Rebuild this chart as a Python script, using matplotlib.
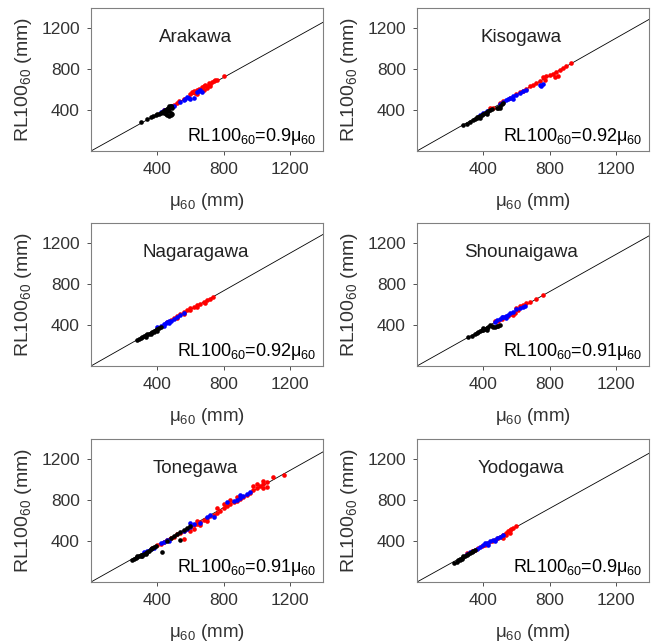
#scatter of RL100_60 vs mu_60 for six rivers

import numpy as np
from matplotlib import pyplot as plt

plt.rcParams['font.family'] = ['Liberation Sans', 'DejaVu Sans']
plt.rcParams['mathtext.fontset'] = 'custom'
plt.rcParams['mathtext.rm'] = 'Liberation Sans'
plt.rcParams['mathtext.it'] = 'Liberation Sans'

rivers = ['Arakawa', 'Kisogawa', 'Nagaragawa', 'Shounaigawa', 'Tonegawa', 'Yodogawa']
slopes = [0.9, 0.92, 0.92, 0.91, 0.91, 0.9]
ticks = [400, 800, 1200]

# (mu60, RL100_60) pairs
ara_black = [(300,280),(340,315),(360,330),(375,340),(390,350),(400,360),(410,365),(420,375),(430,380),(440,390),
             (445,400),(450,405),(455,380),(460,410),(465,420),(470,395),(475,430),(480,440),(485,350),(490,360),
             (470,345),(480,370),(460,355),(450,360),(440,370),(490,420),(485,440),(470,440)]
ara_blue = [(420,380),(440,400),(500,440),(540,480),(560,500),(570,510),(580,530),(590,520),
            (620,520),(640,575),(650,590),(660,600),(670,580),(600,510)]
ara_red = [(440,400),(470,420),(500,450),(520,470),(530,490),(560,510),(600,560),(610,580),(630,570),
           (640,600),(650,610),(670,630),(680,640),(690,650),(700,640),(710,670),(720,660),(730,680),
           (740,690),(750,700),(760,700),(800,735),(620,590),(680,600),(700,620),(720,640),(640,560)]

kis_black = [(280,250),(300,265),(320,280),(340,300),(350,310),(360,320),(370,330),(380,340),(390,350),(400,360),
             (410,370),(420,380),(430,390),(440,400),(450,410),(380,320),(360,335),(420,360),(490,420),(500,440),
             (510,460),(520,470),(500,420),(480,420)]
kis_blue = [(380,350),(400,370),(420,390),(500,460),(520,480),(540,500),(550,510),(560,520),(580,540),
            (600,550),(620,570),(640,590),(660,600),(740,650),(760,660),(750,640),(580,510)]
kis_red = [(440,420),(460,420),(500,470),(520,490),(560,520),(600,560),(620,580),(640,590),(660,610),(680,640),
           (700,650),(720,670),(740,690),(760,720),(780,730),(800,740),(820,750),(840,770),(860,790),(880,810),
           (900,830),(930,865),(770,700),(830,720),(850,730)]

nag_black = [(280,255),(290,265),(300,270),(310,280),(320,290),(330,300),(340,310),(350,315),(360,325),(370,335),
             (380,345),(390,350),(400,360),(410,370),(420,380),(330,280),(360,310),(380,330),(400,345)]
nag_blue = [(400,380),(420,395),(440,410),(450,420),(460,430),(470,440),(480,445),(500,460),(520,480),(540,500),
            (560,520),(440,390),(470,420)]
nag_red = [(460,430),(480,450),(500,470),(520,490),(540,510),(560,530),(580,550),(600,570),(620,580),(640,600),
           (660,610),(680,630),(700,650),(720,660),(735,675),(520,470),(560,510),(600,550),(640,580),(690,620)]

sho_black = [(310,285),(330,290),(350,310),(360,320),(370,335),(380,345),(390,350),(400,355),(410,365),(420,375),
             (430,385),(440,400),(450,390),(460,380),(470,385),(480,390),(490,395),(500,405),(400,370),(420,350)]
sho_blue = [(470,430),(480,450),(500,460),(510,475),(520,480),(540,490),(550,500),(560,520),(580,530),(600,560),
            (620,565),(640,580),(650,590),(540,470)]
sho_red = [(470,440),(490,440),(510,460),(530,480),(550,490),(570,510),(590,520),(600,570),(620,590),(640,600),
           (660,620),(680,630),(720,660),(760,700),(580,500),(610,550)]

ton_black = [(250,220),(260,230),(270,235),(280,240),(290,250),(300,260),(310,265),(320,275),(330,285),(340,295),
             (350,305),(360,320),(370,330),(380,340),(390,350),(300,250),(310,250),(280,250),(430,295),(460,400),
             (480,430),(500,450),(520,470),(540,490),(560,510),(580,530),(600,550),(540,410),(330,270)]
ton_blue = [(320,290),(340,305),(360,320),(380,330),(420,380),(440,395),(460,410),(470,400),(560,500),(580,520),
            (600,540),(600,580),(620,570),(660,575),(700,640),(720,660),(740,640),(820,780),(860,790),(880,800),
            (900,820),(920,840),(940,860),(960,880),(900,850)]
ton_red = [(370,330),(400,360),(420,370),(440,390),(460,410),(480,430),(500,440),(520,470),(540,480),(560,500),
           (580,520),(600,540),(620,560),(640,570),(660,590),(680,610),(700,630),(720,650),(740,660),(760,680),
           (780,700),(800,720),(820,740),(840,760),(860,780),(880,790),(900,810),(920,830),(940,850),(960,870),
           (980,900),(1000,920),(1020,940),(1040,960),(1060,980),(1100,1025),(1165,1045),(1040,990),(1000,960),
           (980,940),(560,420),(600,500),(640,600),(700,600),(760,720),(800,760),(620,520),(840,800),(880,830),
           (660,560),(1040,920),(1060,930)]

yod_black = [(222,185),(240,200),(250,215),(260,225),(270,230),(280,240),(290,250),(300,265),(310,270),(320,280),
             (330,290),(340,300),(350,310),(260,215),(280,250)]
yod_blue = [(300,270),(320,290),(340,300),(360,320),(380,340),(400,360),(410,380),(420,385),(440,400),(460,410),
            (480,430),(500,440),(520,460),(470,400),(430,360)]
yod_red = [(300,285),(330,300),(350,310),(370,330),(390,350),(410,365),(430,380),(450,400),(470,415),(490,430),
           (510,445),(520,460),(540,480),(550,500),(560,510),(570,520),(580,530),(598,548),(540,460),(560,480),(520,430)]

data = [(ara_black, ara_blue, ara_red), (kis_black, kis_blue, kis_red), (nag_black, nag_blue, nag_red),
        (sho_black, sho_blue, sho_red), (ton_black, ton_blue, ton_red), (yod_black, yod_blue, yod_red)]

fig = plt.figure(figsize=(6.6, 6.43), dpi=100)
lefts = [91/660, 417/660]
bottoms = [1-151/643, 1-366/643, 1-582/643]
w = 232/660
h = 143/643
grey = '#333333'

for i in range(6):
	ax = fig.add_axes([lefts[i % 2], bottoms[i // 2], w, h])
	ax.set_xlim(0, 1400)
	ax.set_ylim(0, 1400)
	xl = np.array([0, 1400])
	ax.plot(xl, slopes[i]*xl, color='black', lw=0.6, zorder=1)
	blk, blu, red = data[i]
	for pts, c in [(red, 'red'), (blu, 'blue'), (blk, 'black')]:
		p = np.array(pts)
		ax.scatter(p[:, 0], p[:, 1], s=11, color=c, marker='o', linewidths=0, zorder=2)
	ax.set_xticks(ticks)
	ax.set_yticks(ticks)
	ax.tick_params(labelsize=12.5, colors=grey, length=3, width=0.6, pad=5)
	for s in ax.spines.values():
		s.set_color('#808080')
		s.set_linewidth(0.8)
	ax.text(630, 1110, rivers[i], fontsize=13.5, ha='center', va='center', color='#222222')
	ax.text(1360, 140, 'RL100$_{60}$=%sμ$_{60}$' % slopes[i], fontsize=13, ha='right', va='center', color='black')
	ax.set_xlabel('μ$_{60}$ (mm)', fontsize=13.5, color=grey, labelpad=10)
	ax.set_ylabel('RL100$_{60}$ (mm)', fontsize=14, color=grey, labelpad=5)

plt.savefig('out.png', dpi=100)
